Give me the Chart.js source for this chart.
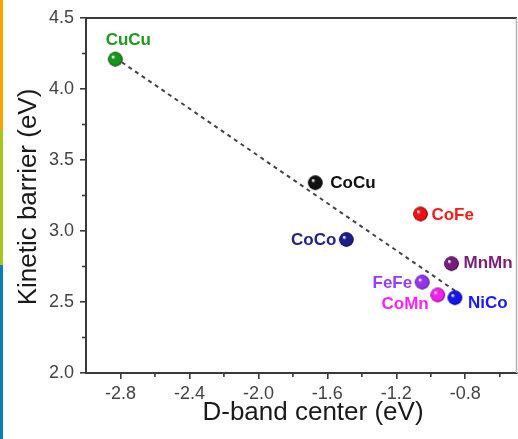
<!DOCTYPE html>
<html>
<head>
<meta charset="utf-8">
<script src="https://cdn.jsdelivr.net/npm/chart.js@4"></script>
<style>
  html, body { margin: 0; padding: 0; background: #fff; }
  #wrap { position: relative; width: 518px; height: 439px; }
  #edge { position: absolute; left: 0; top: 0; width: 3px; height: 439px;
          background: linear-gradient(to bottom, #f3a600 0px, #f3a600 130px, #a9c61a 130px, #a9c61a 265px, #0a7db5 265px, #0a7db5 439px); }
  canvas { position: absolute; left: 0; top: 0; }
</style>
</head>
<body>
<div id="wrap">
  <canvas id="c" width="518" height="439"></canvas>
  <div id="edge"></div>
</div>
<script>
// ---- data ----
const names = ["CuCu", "CoCu", "CoFe", "CoCo", "MnMn", "FeFe", "CoMn", "NiCo"];
const dBand = [-2.83, -1.67, -1.06, -1.49, -0.88, -1.05, -0.96, -0.86];
const barrier = [4.21, 3.34, 3.12, 2.94, 2.77, 2.64, 2.55, 2.53];
const fitX = [-2.83, -0.86];
const fitY = [4.22, 2.58];
const xTickValues = [-2.8, -2.4, -2.0, -1.6, -1.2, -0.8];
const xMinorValues = [-2.6, -2.2, -1.8, -1.4, -1.0, -0.6];
const yTickValues = [2.0, 2.5, 3.0, 3.5, 4.0, 4.5];
const yMinorValues = [2.25, 2.75, 3.25, 3.75, 4.25];

// ---- styles ----
const ballColors = ["#17951b", "#111111", "#f01010", "#1c1f8a", "#7a1c7e", "#9333f0", "#f51ef0", "#1414f0"];
const labelColors = ["#1f9a22", "#111111", "#ff1a1a", "#23238f", "#7b1f7b", "#9a3cff", "#ff22ff", "#1a1aff"];
// label offsets from point centre: [dx, dy, align]
const labelOffsets = [[13, -19, "center"], [15, 1, "left"], [11, 1, "left"], [-10, 1, "right"],
                      [12, 0, "left"], [-10, 1, "right"], [-9, 9, "right"], [13, 6, "left"]];
const FONT = "'Liberation Sans', Arial, sans-serif";

function ball(color) {
  const s = 17, c = document.createElement("canvas");
  c.width = s; c.height = s;
  const g = c.getContext("2d");
  const r = 7.2, cx = s / 2, cy = s / 2;
  const grad = g.createRadialGradient(cx - 2.5, cy - 2.5, 0.5, cx, cy, r);
  grad.addColorStop(0, "#ffffff");
  grad.addColorStop(0.25, color);
  grad.addColorStop(0.85, color);
  grad.addColorStop(1, "rgba(0,0,0,0.85)");
  g.fillStyle = color;
  g.beginPath(); g.arc(cx, cy, r, 0, Math.PI * 2); g.fill();
  g.fillStyle = grad;
  g.beginPath(); g.arc(cx, cy, r, 0, Math.PI * 2); g.fill();
  return c;
}
const ballImgs = ballColors.map(ball);

const extras = {
  id: "extras",
  afterDraw(chart) {
    const ctx = chart.ctx, a = chart.chartArea;
    const xs = chart.scales.x, ys = chart.scales.y;
    ctx.save();
    // frame top and right
    ctx.strokeStyle = "#3a3a3a"; ctx.lineWidth = 2;
    ctx.beginPath(); ctx.moveTo(a.left, a.top); ctx.lineTo(a.right, a.top); ctx.stroke();
    ctx.strokeStyle = "#b5b5b5"; ctx.lineWidth = 1.5;
    ctx.beginPath(); ctx.moveTo(a.right - 0.5, a.top); ctx.lineTo(a.right - 0.5, a.bottom); ctx.stroke();
    // minor ticks
    ctx.strokeStyle = "#3a3a3a"; ctx.lineWidth = 1.6;
    xMinorValues.forEach(v => {
      const px = xs.getPixelForValue(v);
      ctx.beginPath(); ctx.moveTo(px, a.bottom); ctx.lineTo(px, a.bottom + 4); ctx.stroke();
    });
    yMinorValues.forEach(v => {
      const py = ys.getPixelForValue(v);
      ctx.beginPath(); ctx.moveTo(a.left, py); ctx.lineTo(a.left - 4, py); ctx.stroke();
    });
    // point labels
    ctx.font = "bold 17px " + FONT;
    ctx.textBaseline = "middle";
    names.forEach((n, i) => {
      const px = xs.getPixelForValue(dBand[i]), py = ys.getPixelForValue(barrier[i]);
      const o = labelOffsets[i];
      ctx.fillStyle = labelColors[i];
      ctx.textAlign = o[2];
      ctx.fillText(n, px + o[0], py + o[1]);
    });
    // axis titles
    ctx.fillStyle = "#1a1a1a";
    ctx.font = "26px " + FONT;
    ctx.textAlign = "center";
    ctx.fillText("D-band center (eV)", 313, 413);
    ctx.translate(29, 197);
    ctx.rotate(-Math.PI / 2);
    ctx.fillText("Kinetic barrier (eV)", 0, 0);
    ctx.restore();
  }
};

new Chart(document.getElementById("c"), {
  type: "scatter",
  data: {
    datasets: [
      {
        label: "fit",
        data: fitX.map((x, i) => ({ x: x, y: fitY[i] })),
        showLine: true,
        borderColor: "#444",
        borderWidth: 2,
        borderDash: [4, 4],
        pointRadius: 0,
        order: 2
      },
      {
        label: "points",
        data: dBand.map((x, i) => ({ x: x, y: barrier[i] })),
        pointStyle: ballImgs,
        pointRadius: 8,
        order: 1
      }
    ]
  },
  options: {
    responsive: false,
    animation: false,
    devicePixelRatio: 1,
    layout: { autoPadding: false, padding: { top: 18, right: 1, left: 0, bottom: 0 } },
    plugins: { legend: { display: false }, tooltip: { enabled: false }, title: { display: false } },
    scales: {
      x: {
        type: "linear", min: -3.0, max: -0.5,
        afterBuildTicks: s => { s.ticks = xTickValues.map(v => ({ value: v })); },
        afterFit: s => { s.height = 66; s.paddingLeft = 0; s.paddingRight = 0; },
        grid: { drawOnChartArea: false, drawTicks: true, tickLength: 6, color: "#3a3a3a", lineWidth: 1.6 },
        border: { display: true, color: "#3a3a3a", width: 2 },
        ticks: { color: "#444", font: { family: FONT, size: 18 }, padding: 4,
                 callback: v => v.toFixed(1) }
      },
      y: {
        type: "linear", min: 2.0, max: 4.5,
        afterBuildTicks: s => { s.ticks = yTickValues.map(v => ({ value: v })); },
        afterFit: s => { s.width = 86; s.paddingTop = 0; s.paddingBottom = 0; },
        grid: { drawOnChartArea: false, drawTicks: true, tickLength: 6, color: "#3a3a3a", lineWidth: 1.6 },
        border: { display: true, color: "#3a3a3a", width: 2 },
        ticks: { color: "#444", font: { family: FONT, size: 18 }, padding: 6,
                 callback: v => v.toFixed(1) }
      }
    }
  },
  plugins: [extras]
});
</script>
</body>
</html>
